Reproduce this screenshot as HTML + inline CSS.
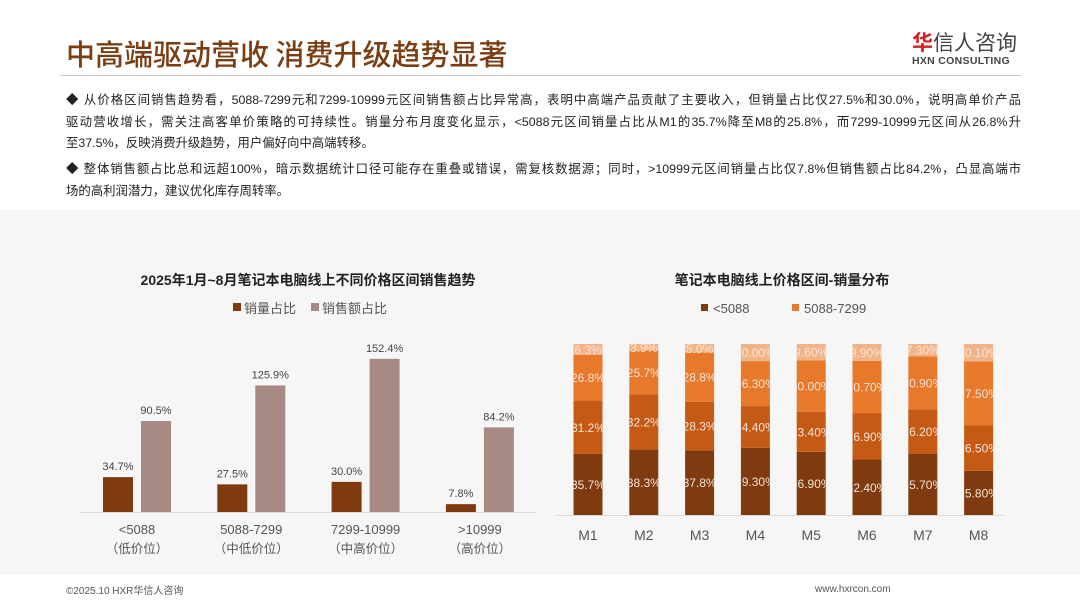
<!DOCTYPE html>
<html><head><meta charset="utf-8">
<style>
body{margin:0;width:1080px;height:608px;overflow:hidden;background:#fff;font-family:"Liberation Sans","Noto Sans CJK SC",sans-serif;position:relative}
.abs{position:absolute}
.title{left:66px;top:32px;font-size:29px;color:#7a3e12;font-family:"Noto Sans CJK SC",sans-serif;font-weight:500;letter-spacing:0px}
.hr{left:60px;top:75px;width:961px;height:1px;background:#c8c8c8}
.txt{left:66px;width:955px;font-size:12.4px;color:#222;line-height:21.5px;font-family:"Liberation Sans","Noto Sans CJK SC",sans-serif}
.ln{display:block;white-space:nowrap;text-align:justify;text-align-last:justify}
.ln.last{text-align-last:left}
.gray{left:0;top:210px;width:1080px;height:365px;background:#f6f6f6}
</style></head><body>
<div class="abs title">中高端驱动营收 消费升级趋势显著</div>
<div class="abs" style="left:912px;top:30px;font-family:'Noto Sans CJK SC',sans-serif;font-size:21px;color:#444;line-height:24px"><span style="color:#d21e1e;font-weight:bold">华</span>信人咨询</div>
<div class="abs" style="left:912px;top:55px;font-size:10.5px;color:#444;font-weight:bold;letter-spacing:0.3px">HXN CONSULTING</div>
<div class="abs hr"></div>
<div class="abs txt" style="top:90px"><span class="ln">◆ 从价格区间销售趋势看，5088-7299元和7299-10999元区间销售额占比异常高，表明中高端产品贡献了主要收入，但销量占比仅27.5%和30.0%，说明高单价产品</span><span class="ln">驱动营收增长，需关注高客单价策略的可持续性。销量分布月度变化显示，&lt;5088元区间销量占比从M1的35.7%降至M8的25.8%，而7299-10999元区间从26.8%升</span><span class="ln last">至37.5%，反映消费升级趋势，用户偏好向中高端转移。</span></div>
<div class="abs txt" style="top:159px"><span class="ln">◆ 整体销售额占比总和远超100%，暗示数据统计口径可能存在重叠或错误，需复核数据源；同时，&gt;10999元区间销量占比仅7.8%但销售额占比84.2%，凸显高端市</span><span class="ln last">场的高利润潜力，建议优化库存周转率。</span></div>
<div class="abs gray"></div>
<svg class="abs" style="left:0;top:0" width="1080" height="608" id="svg"></svg>
<div class="abs" style="left:66px;top:582px;font-size:10px;color:#555">©2025.10 HXR华信人咨询</div>
<div class="abs" style="left:815px;top:584px;font-size:10px;color:#555">www.hxrcon.com</div>
<script>
const leftCats=['<5088','5088-7299','7299-10999','>10999'];
const leftSub=['（低价位）','（中低价位）','（中高价位）','（高价位）'];
const volShare=[34.7,27.5,30.0,7.8];
const salesShare=[90.5,125.9,152.4,84.2];
const months=['M1','M2','M3','M4','M5','M6','M7','M8'];
const segA=[35.7,38.3,37.8,39.3,36.9,32.4,35.7,25.8];
const segB=[31.2,32.2,28.3,24.4,23.4,26.9,26.2,26.5];
const segC=[26.8,25.7,28.8,26.3,30.0,30.7,30.9,37.5];
const segD=[6.3,3.9,5.0,10.0,9.6,9.9,7.3,10.1];
const segLabA=['35.7%','38.3%','37.8%','39.30%','36.90%','32.40%','35.70%','25.80%'];
const segLabB=['31.2%','32.2%','28.3%','24.40%','23.40%','26.90%','26.20%','26.50%'];
const segLabC=['26.8%','25.7%','28.8%','26.30%','30.00%','30.70%','30.90%','37.50%'];
const segLabD=['6.3%','3.9%','5.0%','10.00%','9.60%','9.90%','7.30%','10.10%'];
const svg=document.getElementById('svg');
const NS='http://www.w3.org/2000/svg';
function mk(t,a,txt){const e=document.createElementNS(NS,t);for(const k in a)e.setAttribute(k,a[k]);if(txt!=null)e.textContent=txt;svg.appendChild(e);return e;}
const F='Liberation Sans, Noto Sans CJK SC, sans-serif';
let e=mk('text',{x:308,y:285,'text-anchor':'middle','font-size':14,'font-weight':'bold',fill:'#222','font-family':F},'2025年1月~8月笔记本电脑线上不同价格区间销售趋势');

e=mk('rect',{x:233,y:303,width:8,height:8,fill:'#7f3a0f'});
e=mk('text',{x:244,y:313,'font-size':13,fill:'#555','font-family':F},'销量占比');
e=mk('rect',{x:311,y:303,width:8,height:8,fill:'#a88a84'});
e=mk('text',{x:322,y:313,'font-size':13,fill:'#555','font-family':F},'销售额占比');
const lBase=512,lScale=1.005;
function lx(i){return 137+i*114.3;}
function ly(v){return lBase-v*lScale;}
e=mk('line',{x1:80,x2:536,y1:lBase+0.5,y2:lBase+0.5,stroke:'#d9d9d9'});
leftCats.forEach((c,i)=>{
  const cx=lx(i);
  let b=mk('rect',{x:cx-34,y:ly(volShare[i]),width:30,height:lBase-ly(volShare[i]),fill:'#7f3a0f'});
  
  let t=mk('text',{x:cx-19,y:ly(volShare[i])-7,'text-anchor':'middle','font-size':11,fill:'#444','font-family':F},volShare[i].toFixed(1)+'%');
  
  b=mk('rect',{x:cx+4,y:ly(salesShare[i]),width:30,height:lBase-ly(salesShare[i]),fill:'#a88a84'});
  
  t=mk('text',{x:cx+19,y:ly(salesShare[i])-7,'text-anchor':'middle','font-size':11,fill:'#444','font-family':F},salesShare[i].toFixed(1)+'%');
  
  t=mk('text',{x:cx,y:534,'text-anchor':'middle','font-size':13,fill:'#555','font-family':F},c);
  
  t=mk('text',{x:cx,y:553,'text-anchor':'middle','font-size':12.5,fill:'#555','font-family':F},leftSub[i]);
  
});
e=mk('text',{x:782,y:285,'text-anchor':'middle','font-size':14,'font-weight':'bold',fill:'#222','font-family':F},'笔记本电脑线上价格区间-销量分布');

e=mk('rect',{x:701,y:304,width:7,height:7,fill:'#7f3a0f'});
e=mk('text',{x:713,y:313,'font-size':13,fill:'#555','font-family':F},'<5088');
e=mk('rect',{x:792,y:304,width:7,height:7,fill:'#e8782a'});
e=mk('text',{x:804,y:313,'font-size':13,fill:'#555','font-family':F},'5088-7299');
const rBase=515,rH=171;
function rx(i){return 588+i*55.8;}
e=mk('line',{x1:555,x2:1005,y1:rBase+0.5,y2:rBase+0.5,stroke:'#d9d9d9'});
const segs=[[segA,'#7f3a0f',segLabA],[segB,'#c45a14',segLabB],[segC,'#e8782a',segLabC],[segD,'#f0b48a',segLabD]];
const defs=mk('defs',{});
months.forEach((m,i)=>{
  const cx=rx(i);
  const tot=segA[i]+segB[i]+segC[i]+segD[i];
  let acc=0;
  const cp=document.createElementNS(NS,'clipPath');cp.setAttribute('id','cp'+i);
  const cr=document.createElementNS(NS,'rect');cr.setAttribute('x',cx-14.5);cr.setAttribute('y',0);cr.setAttribute('width',29);cr.setAttribute('height',600);
  cp.appendChild(cr);defs.appendChild(cp);
  segs.forEach((s,k)=>{
    const v=s[0][i];
    const y1=rBase-(acc+v)/tot*rH, h=v/tot*rH;
    let r=mk('rect',{x:cx-14.5,y:y1,width:29,height:h,fill:s[1]});
    
    let t=mk('text',{x:cx,y:y1+h/2+4.5,'text-anchor':'middle','font-size':12,fill:k==3?'#fbe3d2':'#f4e3d6','font-family':F,'clip-path':'url(#cp'+i+')'},s[2][i]);
    
    acc+=v;
  });
  let t=mk('text',{x:cx,y:540,'text-anchor':'middle','font-size':14,fill:'#555','font-family':F},m);
  
});
</script>
</body></html>
